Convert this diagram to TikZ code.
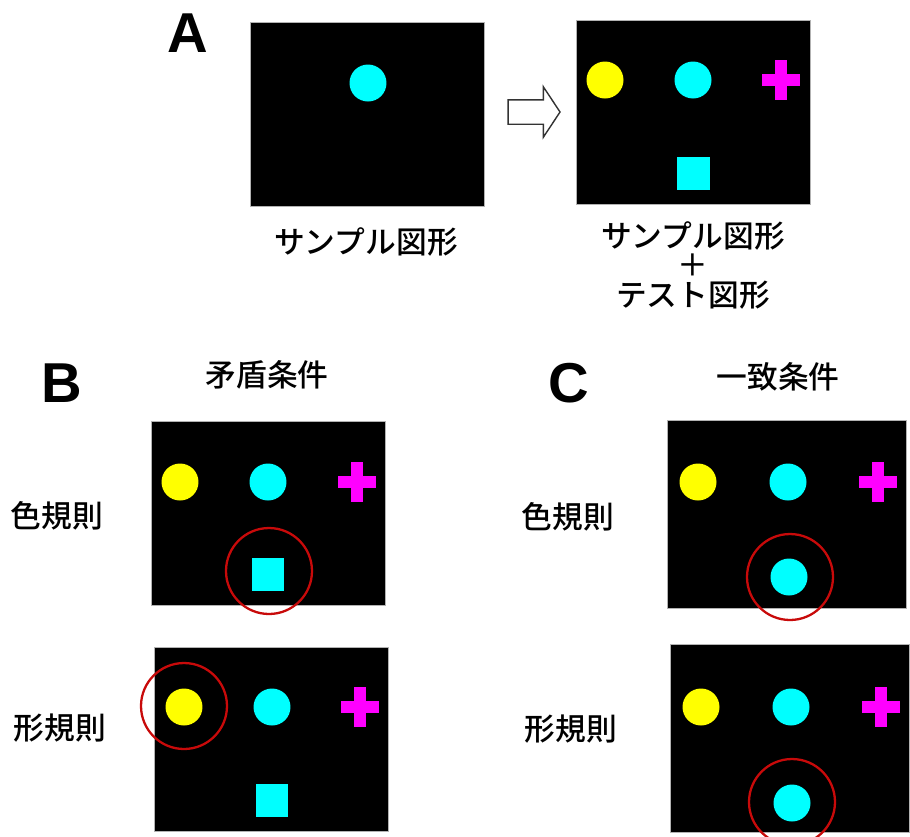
\documentclass[tikz,border=0pt]{standalone}
\usepackage{fontspec}
\setmainfont{Noto Sans CJK JP}[UprightFont={* Medium}]
\newfontfamily\letterfont{Liberation Sans}
\usepackage{tikz}
\usetikzlibrary{positioning,shapes.arrows}

\definecolor{ringred}{RGB}{200,10,10}
\definecolor{shapecyan}{RGB}{0,255,255}
\definecolor{shapeyellow}{RGB}{255,255,0}
\definecolor{shapemagenta}{RGB}{255,0,255}

\begin{document}
\begin{tikzpicture}[
    x=0.02cm, y=-0.02cm,
    panel/.style={rectangle, draw=gray!60, line width=0.5pt, fill=black, minimum width=4.68cm, minimum height=3.68cm, inner sep=0},
    widepanel/.style={panel, minimum width=4.78cm, minimum height=3.76cm},
    dot/.style={circle, inner sep=0, minimum size=0.74cm},
    ydot/.style={dot, fill=shapeyellow},
    cdot/.style={dot, fill=shapecyan},
    csquare/.style={rectangle, fill=shapecyan, inner sep=0, minimum size=0.66cm},
    ring/.style={circle, draw=ringred, line width=1.3pt, inner sep=0, minimum size=1.72cm},
    letter/.style={inner sep=0, font=\letterfont\bfseries\fontsize{32}{32}\selectfont},
    label/.style={inner sep=0, align=center, font=\fontsize{17.5}{16.8}\selectfont},
    plusmark/.pic={
        \fill[shapemagenta] (-19,-6) rectangle (19,6);
        \fill[shapemagenta] (-6,-20) rectangle (6,20);
    }
]
\useasboundingbox (0,0) rectangle (910,836);

% Panel A
\node[letter] (lA) at (188,33) {A};
\node[panel] (a1) at (367,114) {};
\node[cdot] (a1c) at (368,83) {};
\node[label] (a1t) at (366,242) {サンプル図形};

\node[single arrow, draw=black!80, fill=white, line width=0.8pt, inner sep=0,
      minimum height=1.04cm, single arrow head extend=0.26cm,
      single arrow tip angle=113] (arr) at (530,112) {\rule{0pt}{0.46cm}};

\node[panel] (a2) at (693,112) {};
\node[ydot] (a2y) at (605,80) {};
\node[cdot] (a2c) at (693,80) {};
\pic (a2p) at (781,80) {plusmark};
\node[csquare] (a2s) at (693,173) {};
\node[label] (a2t) at (693,265) {サンプル図形\\＋\\テスト図形};

% Panel B
\node[letter] (lB) at (62,383) {B};
\node[label] (bt) at (267,375) {矛盾条件};

\node[label] (b1t) at (57,516) {色規則};
\node[panel] (b1) at (268,513) {};
\node[ydot] (b1y) at (180,482) {};
\node[cdot] (b1c) at (268,482) {};
\pic (b1p) at (357,482) {plusmark};
\node[csquare] (b1s) at (268,574) {};
\node[ring] (b1r) at (269,571) {};

\node[label] (b2t) at (60,728) {形規則};
\node[panel] (b2) at (271,739) {};
\node[ydot] (b2y) at (184,707) {};
\node[cdot] (b2c) at (272,707) {};
\pic (b2p) at (360,707) {plusmark};
\node[csquare] (b2s) at (272,800) {};
\node[ring] (b2r) at (184,706) {};

% Panel C
\node[letter] (lC) at (569,383) {C};
\node[label] (ct) at (778,377) {一致条件};

\node[label] (c1t) at (568,517) {色規則};
\node[widepanel] (c1) at (787,514) {};
\node[ydot] (c1y) at (698,482) {};
\node[cdot] (c1c) at (788,482) {};
\pic (c1p) at (878,482) {plusmark};
\node[cdot] (c1d) at (789,577) {};
\node[ring] (c1r) at (790,577) {};

\node[label] (c2t) at (571,729) {形規則};
\node[widepanel] (c2) at (790,738) {};
\node[ydot] (c2y) at (701,707) {};
\node[cdot] (c2c) at (791,707) {};
\pic (c2p) at (881,707) {plusmark};
\node[cdot] (c2d) at (792,803) {};
\node[ring] (c2r) at (792,802) {};

\end{tikzpicture}
\end{document}
